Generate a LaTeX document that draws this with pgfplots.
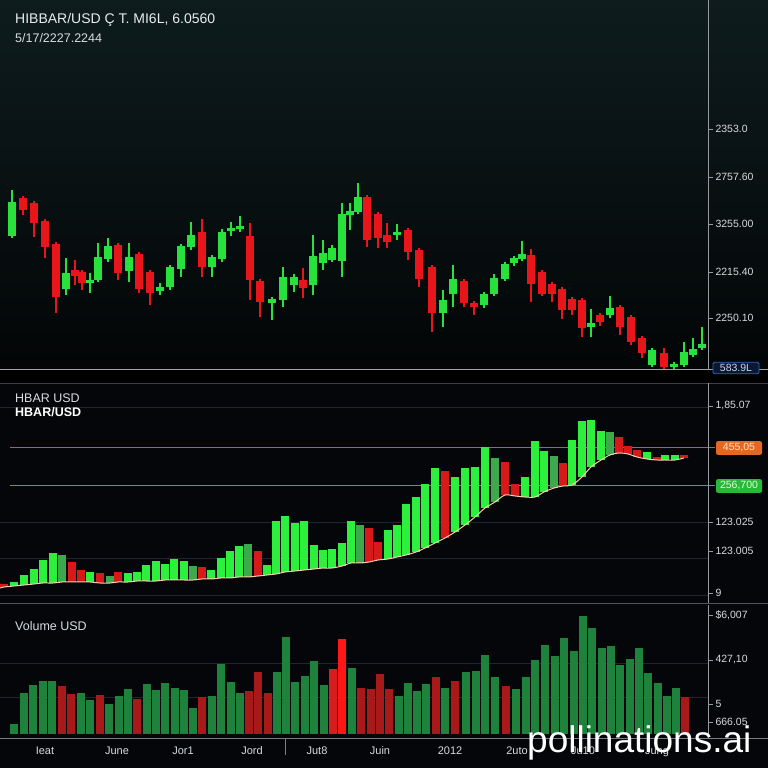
\documentclass[border=0pt]{standalone}
\usepackage{pgfplots}
\pgfplotsset{compat=1.18}
\usepackage{pgfplotstable}
\usepackage{fontspec}
\setmainfont{Liberation Sans}
\definecolor{cg}{RGB}{40,225,60}
\definecolor{cr}{RGB}{232,22,26}
\definecolor{mg}{RGB}{45,240,60}
\definecolor{md}{RGB}{62,168,76}
\definecolor{mr}{RGB}{215,25,25}
\definecolor{vg}{RGB}{30,130,60}
\definecolor{vr}{RGB}{168,26,26}
\definecolor{vm}{RGB}{215,30,30}
\definecolor{vb}{RGB}{255,22,22}
\definecolor{axgray}{RGB}{150,155,160}
\definecolor{lblgray}{RGB}{215,218,222}
\definecolor{gridc}{RGB}{34,37,43}
\definecolor{bgtop}{RGB}{14,28,30}
\definecolor{bgtopb}{RGB}{3,5,6}
\definecolor{bglow}{RGB}{4,6,9}
\definecolor{sep1}{RGB}{160,164,168}
\definecolor{sep2}{RGB}{60,64,70}
\definecolor{sep3}{RGB}{80,84,90}
\definecolor{sep4}{RGB}{120,125,130}
\definecolor{orline}{RGB}{200,90,45}
\definecolor{grline}{RGB}{110,150,80}
\definecolor{curvec}{RGB}{255,205,175}
\definecolor{bluebd}{RGB}{50,100,190}
\definecolor{bluefl}{RGB}{10,24,50}
\definecolor{bluetx}{RGB}{200,215,240}
\definecolor{orfl}{RGB}{225,105,35}
\definecolor{ortx}{RGB}{255,225,200}
\definecolor{grfl}{RGB}{40,185,55}
\definecolor{grtx}{RGB}{220,255,220}
\definecolor{titlec}{RGB}{232,236,238}
\definecolor{subc}{RGB}{215,220,224}

% candles: x, body top, body bottom, wick top, wick bottom (pixel rows)
\pgfplotstableread{
x bt bb wt wb
12 202 236 190 238
66 273 289 258 295
90 280 283 273 293
98 257 280 243 282
108 246 259 238 262
129 257 271 243 282
160 287 291 283 295
170 267 287 265 290
181 246 269 244 277
191 235 247 222 250
212 257 267 255 277
222 232 259 229 262
231 228 231 222 236
240 226 229 216 232
272 299 303 297 320
283 277 300 267 307
294 277 285 274 292
313 256 285 235 295
323 253 263 240 270
332 248 260 245 262
342 214 261 203 277
350 211 215 203 230
358 197 212 183 214
397 232 235 224 240
443 300 313 290 327
453 279 294 265 307
484 294 305 292 308
494 278 294 274 296
505 264 279 262 281
514 258 263 256 266
522 254 259 241 261
591 323 327 309 337
610 308 315 296 318
652 350 365 348 367
674 364 367 362 369
684 352 365 342 367
693 349 355 338 357
702 344 348 327 350
}\candleG
\pgfplotstableread{
x bt bb wt wb
23 198 210 196 215
34 203 223 201 237
45 221 247 219 258
56 244 297 242 313
75 270 276 260 285
82 272 283 270 290
118 245 273 243 280
139 254 289 252 293
150 272 293 270 305
202 232 267 219 277
250 236 280 223 300
260 281 302 279 317
303 280 288 268 298
367 197 240 195 247
378 214 238 212 248
387 235 242 223 248
408 230 252 228 260
419 250 279 248 287
432 267 313 265 332
464 281 303 279 307
474 303 307 301 315
531 255 284 249 302
542 272 294 270 296
552 284 294 282 302
562 289 310 287 319
572 299 310 297 315
582 300 328 298 337
600 315 322 313 326
620 307 327 305 335
631 317 342 315 345
642 338 353 336 358
664 353 367 348 369
}\candleR

% middle panel bars: x, top, bottom
\pgfplotstableread{
x t b
14 582 586
24 575 585
34 569 584
43 560 583
53 553 583
90 572 582
128 573 582
137 572 581
146 565 581
156 561 581
165 564 580
174 559 580
184 561 580
211 570 579
221 558 578
230 551 578
239 546 577
267 565 575
276 521 574
285 516 572
295 523 571
304 521 570
314 545 569
323 550 568
332 549 568
342 543 566
351 521 563
388 530 559
397 525 557
406 504 555
416 497 552
425 484 548
435 468 543
455 477 532
465 468 525
475 467 517
485 447 508
525 477 497
535 441 497
544 451 492
572 440 485
582 421 477
591 420 467
601 431 460
647 452 459
665 455 460
675 455 460
}\midG
\pgfplotstableread{
x t b
62 555 582
110 576 583
193 566 580
248 544 577
360 525 563
495 458 502
554 456 488
610 432 455
}\midD
\pgfplotstableread{
x t b
4 584 587
72 562 582
81 570 582
100 573 583
118 572 582
202 567 579
258 551 576
369 528 562
378 542 560
445 471 538
505 462 495
515 484 496
563 463 486
619 437 453
628 446 454
637 450 457
657 457 460
684 455 458
}\midR
\pgfplotstableread{
x b
0 588
4 587
14 586
24 585
34 584
43 583
53 583
62 582
72 582
81 582
90 582
100 583
110 583
118 582
128 582
137 581
146 581
156 581
165 580
174 580
184 580
193 580
202 579
211 579
221 578
230 578
239 577
248 577
258 576
267 575
276 574
285 572
295 571
304 570
314 569
323 568
332 568
342 566
351 563
360 563
369 562
378 560
388 559
397 557
406 555
416 552
425 548
435 543
445 538
455 532
465 525
475 517
485 508
495 502
505 495
515 496
525 497
535 497
544 492
554 488
563 486
572 485
582 477
591 467
601 460
610 455
619 453
628 454
637 457
647 459
657 460
665 460
675 460
684 458
}\midCurve

% volume bars: x, top (pixel rows; base at 734)
\pgfplotstableread{
x t
14 724
24 693
33 685
43 681
52 681
81 693
90 700
109 704
119 696
128 689
147 684
156 690
165 683
175 688
184 690
193 708
212 696
221 664
231 682
240 693
277 672
286 637
295 682
305 676
314 661
324 685
352 668
399 696
408 683
417 691
426 684
445 688
466 672
476 671
485 655
495 677
516 689
526 677
535 660
545 645
555 656
564 638
574 651
583 616
592 628
602 648
611 646
620 665
630 659
639 648
648 673
658 683
667 696
676 688
}\volG
\pgfplotstableread{
x t
62 686
71 694
100 695
137 699
202 697
249 691
258 672
268 693
361 688
371 689
380 674
389 689
436 677
455 681
506 686
685 697
}\volR
\pgfplotstableread{
x t
333 669
}\volM
\pgfplotstableread{
x t
342 639
}\volB

\pgfplotsset{
  panel/.style={
    scale only axis, width=708pt,
    xmin=0, xmax=708,
    axis y line*=right,
    axis line style={draw=axgray, line width=0.8pt},
    tick align=outside, major tick length=5pt,
    tick style={draw=axgray, line width=0.8pt},
    yticklabel style={font=\fontsize{10.5}{11}\selectfont, text=lblgray, xshift=-1pt},
    clip=true,
  },
  bodybar/.style 2 args={draw=none, no markers, forget plot,
    error bars/.cd, y dir=both, y explicit, error mark=none,
    error bar style={draw=#1, line width=#2}},
}

\begin{document}
\begin{tikzpicture}[x=1pt,y=1pt]
% backgrounds
\fill[black] (0,0) rectangle (768,768);
\shade[top color=bgtop, bottom color=bgtopb] (0,398) rectangle (768,768);
\fill[bglow] (0,0) rectangle (768,385);
% middle panel faint grid
\foreach \yy in {361,246,210,173} {\draw[gridc, line width=0.8pt] (0,\yy) -- (708,\yy);}
% bottom panel faint grid
\foreach \yy in {105,71} {\draw[gridc, line width=0.8pt] (0,\yy) -- (708,\yy);}
% separators
\draw[sep1, line width=1pt] (0,398) -- (768,398);
\draw[sep2, line width=0.8pt] (0,385) -- (768,385);
\draw[sep3, line width=0.8pt] (0,165) -- (768,165);
% level lines
\draw[orline, line width=1pt] (10,320) -- (715,320);
\draw[grline, line width=1pt] (10,282) -- (715,282);

% ---------- top panel: candles ----------
\begin{axis}[panel, at={(0pt,398pt)}, anchor=south west, height=370pt,
  axis x line=none,
  ymin=398, ymax=768,
  ytick={639,591,544,496,450},
  yticklabels={2353.0, 2757.60, 3255.00, 2215.40, 2250.10}]
\addplot[bodybar={cg}{1.2pt}] table[x=x, y expr={768-(\thisrow{wt}+\thisrow{wb})/2}, y error expr={abs(\thisrow{wb}-\thisrow{wt})/2}] {\candleG};
\addplot[bodybar={cr}{1.2pt}] table[x=x, y expr={768-(\thisrow{wt}+\thisrow{wb})/2}, y error expr={abs(\thisrow{wb}-\thisrow{wt})/2}] {\candleR};
\addplot[bodybar={cg}{8.5pt}] table[x=x, y expr={768-(\thisrow{bt}+\thisrow{bb})/2}, y error expr={abs(\thisrow{bb}-\thisrow{bt})/2}] {\candleG};
\addplot[bodybar={cr}{8.5pt}] table[x=x, y expr={768-(\thisrow{bt}+\thisrow{bb})/2}, y error expr={abs(\thisrow{bb}-\thisrow{bt})/2}] {\candleR};
\end{axis}

% ---------- middle panel ----------
\begin{axis}[panel, at={(0pt,165pt)}, anchor=south west, height=220pt,
  axis x line=none,
  ymin=165, ymax=385,
  ytick={362,246,217,175},
  yticklabels={{1,85.07},{123.025},{123.005},{9}}]
\addplot[bodybar={mg}{8.5pt}] table[x=x, y expr={768-(\thisrow{t}+\thisrow{b})/2}, y error expr={abs(\thisrow{b}-\thisrow{t})/2}] {\midG};
\addplot[bodybar={md}{8.5pt}] table[x=x, y expr={768-(\thisrow{t}+\thisrow{b})/2}, y error expr={abs(\thisrow{b}-\thisrow{t})/2}] {\midD};
\addplot[bodybar={mr}{8.5pt}] table[x=x, y expr={768-(\thisrow{t}+\thisrow{b})/2}, y error expr={abs(\thisrow{b}-\thisrow{t})/2}] {\midR};
\addplot[no marks, smooth, line width=1pt, color=curvec] table[x=x, y expr={768-\thisrow{b}}] {\midCurve};
\end{axis}

% ---------- bottom panel: volume ----------
\begin{axis}[panel, at={(0pt,30pt)}, anchor=south west, height=133pt,
  ymin=30, ymax=163,
  axis x line*=bottom,
  ytick={153,108,64,46},
  yticklabels={{\$6,007},{427,10},{5},{666.05}},
  xtick={45,117,183,252,317,380,450,517,583,657},
  xticklabels={Ieat, June, Jor1, Jord, Jut8, Juin, 2012, 2uto, Ju10, Jung},
  major x tick style={draw=none},
  xticklabel style={font=\fontsize{11}{11}\selectfont, text=lblgray, yshift=0pt}]
\addplot[bodybar={vg}{7.6pt}] table[x=x, y expr={768-(\thisrow{t}+734)/2}, y error expr={abs(734-\thisrow{t})/2}] {\volG};
\addplot[bodybar={vr}{7.6pt}] table[x=x, y expr={768-(\thisrow{t}+734)/2}, y error expr={abs(734-\thisrow{t})/2}] {\volR};
\addplot[bodybar={vm}{7.6pt}] table[x=x, y expr={768-(\thisrow{t}+734)/2}, y error expr={abs(734-\thisrow{t})/2}] {\volM};
\addplot[bodybar={vb}{8.5pt}] table[x=x, y expr={768-(\thisrow{t}+734)/2}, y error expr={abs(734-\thisrow{t})/2}] {\volB};
\end{axis}

\draw[sep4, line width=0.8pt] (0,30) -- (768,30);
\draw[sep4, line width=0.8pt] (285,30) -- (285,13);

% right-side value boxes
\node[draw=bluebd, fill=bluefl, rounded corners=1.5pt, line width=0.8pt,
  text=bluetx, font=\fontsize{10.5}{11}\selectfont, inner sep=2pt, minimum width=46pt] at (736,400) {583.9L};
\node[fill=orfl, rounded corners=2pt, text=ortx,
  font=\fontsize{10.5}{11}\selectfont, inner sep=2.5pt, minimum width=46pt] at (739,320) {455,05};
\node[fill=grfl, rounded corners=2pt, text=grtx,
  font=\fontsize{10.5}{11}\selectfont, inner sep=2.5pt, minimum width=46pt] at (739,282) {256,700};

% texts
\node[anchor=base west, inner sep=0, text=titlec] at (15,744) {\fontsize{14}{14}\selectfont HIBBAR/USD Ç T. MI6L, 6.0560};
\node[anchor=base west, inner sep=0, text=subc] at (15,725) {\fontsize{12.5}{13}\selectfont 5/17/2227.2244};
\node[anchor=base west, inner sep=0, text=subc] at (15,365) {\fontsize{12.5}{13}\selectfont HBAR USD};
\node[anchor=base west, inner sep=0, text=white] at (15,351) {\fontsize{12.5}{13}\selectfont\bfseries HBAR/USD};
\node[anchor=base west, inner sep=0, text=subc] at (15,137) {\fontsize{12.5}{13}\selectfont Volume USD};
\node[anchor=base west, inner sep=0, text=white] at (527,15) {\fontsize{37}{37}\selectfont pollinations.ai};

\pgfresetboundingbox
\useasboundingbox (0,0) rectangle (768,768);
\end{tikzpicture}
\end{document}
